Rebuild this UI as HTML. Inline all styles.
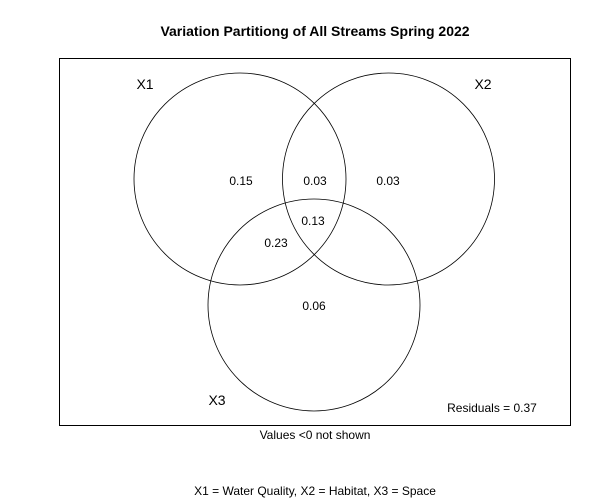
<!DOCTYPE html>
<html><head><meta charset="utf-8"><style>
body{margin:0;background:#fff;}
svg{display:block;font-family:"Liberation Sans",Arial,sans-serif;}
</style></head><body>
<svg width="600" height="500" viewBox="0 0 600 500">
<rect x="0" y="0" width="600" height="500" fill="#fff"/>
<text x="315" y="36" text-anchor="middle" font-size="14" font-weight="bold">Variation Partitiong of All Streams Spring 2022</text>
<rect x="59.5" y="58.5" width="511" height="367" fill="none" stroke="#000" stroke-width="1"/>
<g id="circles"></g>
<g id="labels"></g>
<text x="492" y="412" text-anchor="middle" font-size="12">Residuals = 0.37</text>
<text x="315" y="439" text-anchor="middle" font-size="12">Values &lt;0 not shown</text>
<text x="315" y="495" text-anchor="middle" font-size="12">X1 = Water Quality, X2 = Habitat, X3 = Space</text>
</svg>
<script>
const setNames = ["X1","X2","X3"];
const regionLabels = ["0.15","0.03","0.03","0.13","0.23","0.06"];
const regionValues = [0.15,0.03,0.03,0.13,0.23,0.06];
const NS="http://www.w3.org/2000/svg";
const circ=[{cx:240,cy:179,r:106},{cx:388.5,cy:179,r:106},{cx:314,cy:305,r:106}];
const setPos=[[145,89],[483,89],[217,405]];
const regPos=[[241,185],[315,185],[388,185],[313,225],[276,247],[314,310]];
const cg=document.getElementById('circles'),lg=document.getElementById('labels');
circ.forEach((c,i)=>{const e=document.createElementNS(NS,'circle');
e.setAttribute('cx',c.cx);e.setAttribute('cy',c.cy);e.setAttribute('r',c.r);
e.setAttribute('fill','none');e.setAttribute('stroke','#000');e.setAttribute('stroke-width','0.8');


cg.appendChild(e);
const t=document.createElementNS(NS,'text');t.setAttribute('x',setPos[i][0]);t.setAttribute('y',setPos[i][1]);
t.setAttribute('text-anchor','middle');t.setAttribute('font-size','14');t.textContent=setNames[i];


lg.appendChild(t);});
regionValues.forEach((v,i)=>{const t=document.createElementNS(NS,'text');
t.setAttribute('x',regPos[i][0]);t.setAttribute('y',regPos[i][1]);t.setAttribute('text-anchor','middle');
t.setAttribute('font-size','12');t.textContent=v.toFixed(2);


lg.appendChild(t);});
</script>
</body></html>
